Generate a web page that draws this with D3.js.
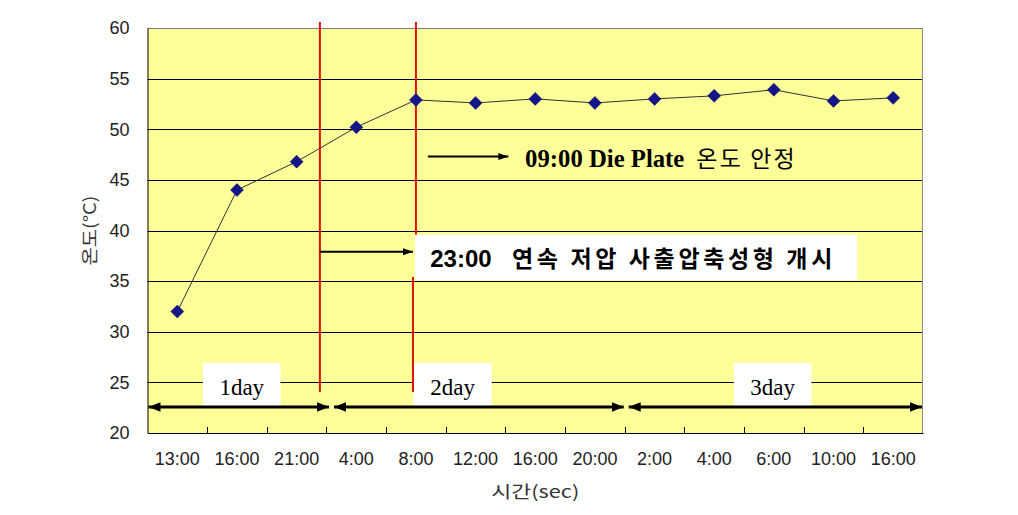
<!DOCTYPE html>
<html><head><meta charset="utf-8">
<script src="https://cdn.jsdelivr.net/npm/d3@7"></script>
<style>
body{margin:0;background:#fff;}
svg{display:block;}
</style></head>
<body><svg id="c" width="1018" height="515"></svg>
<script>
// ---- data ----
const categories = ["13:00","16:00","21:00","4:00","8:00","12:00","16:00","20:00","2:00","4:00","6:00","10:00","16:00"];
const temps = [32.0, 44.0, 46.8, 50.2, 52.9, 52.6, 53.0, 52.6, 53.0, 53.3, 53.9, 52.8, 53.1];
const yTicks = [20,25,30,35,40,45,50,55,60];
const dayLabels = ["1day","2day","3day"];
const daySpans = [[0,3.06],[3.11,8.0],[8.05,13]];   // in category-index units
const dayBoxes = [[0.93,2.23],[4.46,5.77],[9.83,11.13]];
const redLines = [{x:2.89, segs:[[60.6,24.05]]},{x:4.5, segs:[[60.6,39.6]]},{x:4.45, segs:[[35.4,24.05]]}];
const note1 = {latin:"09:00 Die Plate", korean:"온도 안정", from:4.7, to:6.05, y:47.3, tx:6.33, kx:9.2, kEnd:10.85, ty:46.25};
const note2 = {time:"23:00", korean:"연속 저압 사출압축성형 개시", from:2.89, to:4.45, y:37.9,
               box:[4.485,11.895,39.56,35.11], tx:4.74, kx:6.11, kEnd:11.48, ty:36.4};

// ---- layout ----
const svg = d3.select("#c");
const L = 147.5, R = 923, T = 28, B = 433;
const n = categories.length;
const x = d3.scaleBand().domain(d3.range(n)).range([L,R]).padding(0);
const xi = d3.scaleLinear().domain([0,n]).range([L,R]);
const y = d3.scaleLinear().domain([20,60]).range([B,T]);

// background
svg.append("rect").attr("x",L).attr("y",T).attr("width",R-L).attr("height",B-T).attr("fill","#ffff99");

// gridlines
svg.append("g").selectAll("line").data(yTicks.filter(d=>d>20)).join("line")
  .attr("x1",L).attr("x2",R).attr("y1",d=>Math.round(y(d))+0.5).attr("y2",d=>Math.round(y(d))+0.5)
  .attr("stroke",d=>d===60?"#7f7f7f":"#000").attr("stroke-width",1);
// right border
svg.append("line").attr("x1",R-0.5).attr("x2",R-0.5).attr("y1",T).attr("y2",B).attr("stroke","#8c8c8c");

const tickFont = "'Liberation Sans', Arial, sans-serif";
// y axis
const yAxis = svg.append("g").attr("transform",`translate(${L},0)`)
  .call(d3.axisLeft(y).tickValues(yTicks).tickSize(0).tickPadding(18));
yAxis.select(".domain").attr("stroke","#000");
yAxis.selectAll("text").attr("font-family",tickFont).attr("font-size","18px").attr("fill","#222");

// x axis
const xAxis = svg.append("g").attr("transform",`translate(0,${B})`)
  .call(d3.axisBottom(x).tickFormat(i=>categories[i]).tickSize(0).tickPadding(19));
xAxis.select(".domain").attr("stroke","#000");
xAxis.selectAll("text").attr("font-family",tickFont).attr("font-size","18px").attr("fill","#222");
// inward ticks at category boundaries
svg.append("g").selectAll("line").data(d3.range(1,n)).join("line")
  .attr("x1",d=>Math.round(xi(d))+0.5).attr("x2",d=>Math.round(xi(d))+0.5)
  .attr("y1",B).attr("y2",B-6).attr("stroke","#000");

// axis titles
svg.append("text").attr("transform",`translate(96,${(T+B)/2}) rotate(-90)`)
  .attr("text-anchor","middle").attr("font-family","'Noto Sans CJK KR', sans-serif")
  .attr("font-size","17px").attr("fill","#333").attr("textLength",70).attr("lengthAdjust","spacingAndGlyphs").text("온도(°C)");
svg.append("text").attr("x",(L+R)/2).attr("y",498).attr("text-anchor","middle")
  .attr("font-family","'Noto Sans CJK KR', sans-serif").attr("font-size","17px").attr("fill","#333")
  .attr("textLength",88).attr("lengthAdjust","spacingAndGlyphs").text("시간(sec)");

// markers defs
const defs = svg.append("defs");
defs.append("marker").attr("id","ah").attr("viewBox","0 0 10 10").attr("refX",10).attr("refY",5)
  .attr("markerWidth",12).attr("markerHeight",12).attr("markerUnits","userSpaceOnUse").attr("orient","auto-start-reverse")
  .append("path").attr("d","M0,1 L10,5 L0,9 Z").attr("fill","#000");
defs.append("marker").attr("id","ahs").attr("viewBox","0 0 10 10").attr("refX",10).attr("refY",5)
  .attr("markerWidth",10).attr("markerHeight",10).attr("markerUnits","userSpaceOnUse").attr("orient","auto")
  .append("path").attr("d","M0,1.5 L10,5 L0,8.5 Z").attr("fill","#000");

// day boxes
svg.append("g").selectAll("rect").data(dayBoxes).join("rect")
  .attr("x",d=>xi(d[0])).attr("width",d=>xi(d[1])-xi(d[0]))
  .attr("y",y(26.9)).attr("height",y(22.5)-y(26.9)).attr("fill","#fff");

// note 2 box (under red lines)
svg.append("rect").attr("x",xi(note2.box[0])).attr("width",xi(note2.box[1])-xi(note2.box[0]))
  .attr("y",y(note2.box[2])).attr("height",y(note2.box[3])-y(note2.box[2])).attr("fill","#fff");

// red lines
redLines.forEach(r=>{
  r.segs.forEach(s=>{
    svg.append("line").attr("x1",xi(r.x)).attr("x2",xi(r.x)).attr("y1",y(s[0])).attr("y2",y(s[1]))
      .attr("stroke","#e01010").attr("stroke-width",2);
  });
});

// day labels
svg.append("g").selectAll("text").data(dayLabels).join("text")
  .attr("x",(d,i)=>xi((dayBoxes[i][0]+dayBoxes[i][1])/2)).attr("y",y(23.75))
  .attr("text-anchor","middle").attr("font-family","'Liberation Serif', 'Times New Roman', serif")
  .attr("font-size","23px").attr("fill","#000").text(d=>d);

// day arrows
svg.append("g").selectAll("line").data(daySpans).join("line")
  .attr("x1",d=>xi(d[0])+1).attr("x2",d=>xi(d[1])-1).attr("y1",y(22.57)).attr("y2",y(22.57))
  .attr("stroke","#000").attr("stroke-width",3)
  .attr("marker-start","url(#ah)").attr("marker-end","url(#ah)");

// note 1
svg.append("line").attr("x1",xi(note1.from)).attr("x2",xi(note1.to)).attr("y1",y(note1.y)).attr("y2",y(note1.y))
  .attr("stroke","#000").attr("stroke-width",2).attr("marker-end","url(#ahs)");
svg.append("text").attr("x",xi(note1.tx)).attr("y",y(note1.ty))
  .attr("font-family","'Liberation Serif', 'Times New Roman', serif").attr("font-weight","bold")
  .attr("font-size","25px").attr("fill","#000")
  .attr("textLength",xi(note1.kx)-xi(note1.tx)-12).attr("lengthAdjust","spacingAndGlyphs").text(note1.latin);
svg.append("text").attr("x",xi(note1.kx)).attr("y",y(note1.ty))
  .attr("font-family","'Noto Sans CJK KR', sans-serif").attr("font-weight","normal")
  .attr("font-size","23px").attr("fill","#000")
  .attr("textLength",xi(note1.kEnd)-xi(note1.kx)).attr("lengthAdjust","spacing").text(note1.korean);

// note 2
svg.append("line").attr("x1",xi(note2.from)).attr("x2",xi(note2.to)).attr("y1",y(note2.y)).attr("y2",y(note2.y))
  .attr("stroke","#000").attr("stroke-width",2).attr("marker-end","url(#ahs)");
svg.append("text").attr("x",xi(note2.tx)).attr("y",y(note2.ty))
  .attr("font-family","'Liberation Sans', Arial, sans-serif").attr("font-weight","bold")
  .attr("font-size","24px").attr("fill","#000").text(note2.time);
svg.append("text").attr("x",xi(note2.kx)).attr("y",y(note2.ty))
  .attr("font-family","'Noto Sans CJK KR', sans-serif").attr("font-weight","bold")
  .attr("font-size","23px").attr("fill","#000")
  .attr("textLength",xi(note2.kEnd)-xi(note2.kx)).attr("lengthAdjust","spacing").text(note2.korean);

// data line
const line = d3.line().x((d,i)=>x(i)+x.bandwidth()/2).y(d=>y(d));
svg.append("path").datum(temps).attr("d",line).attr("fill","none").attr("stroke","#333").attr("stroke-width",1);
svg.append("g").selectAll("path").data(temps).join("path")
  .attr("transform",(d,i)=>`translate(${x(i)+x.bandwidth()/2},${y(d)})`)
  .attr("d","M0,-6.5 L6.5,0 L0,6.5 L-6.5,0 Z").attr("fill","#14148c").attr("stroke","#0a0a50").attr("stroke-width",0.5);
</script></body></html>
